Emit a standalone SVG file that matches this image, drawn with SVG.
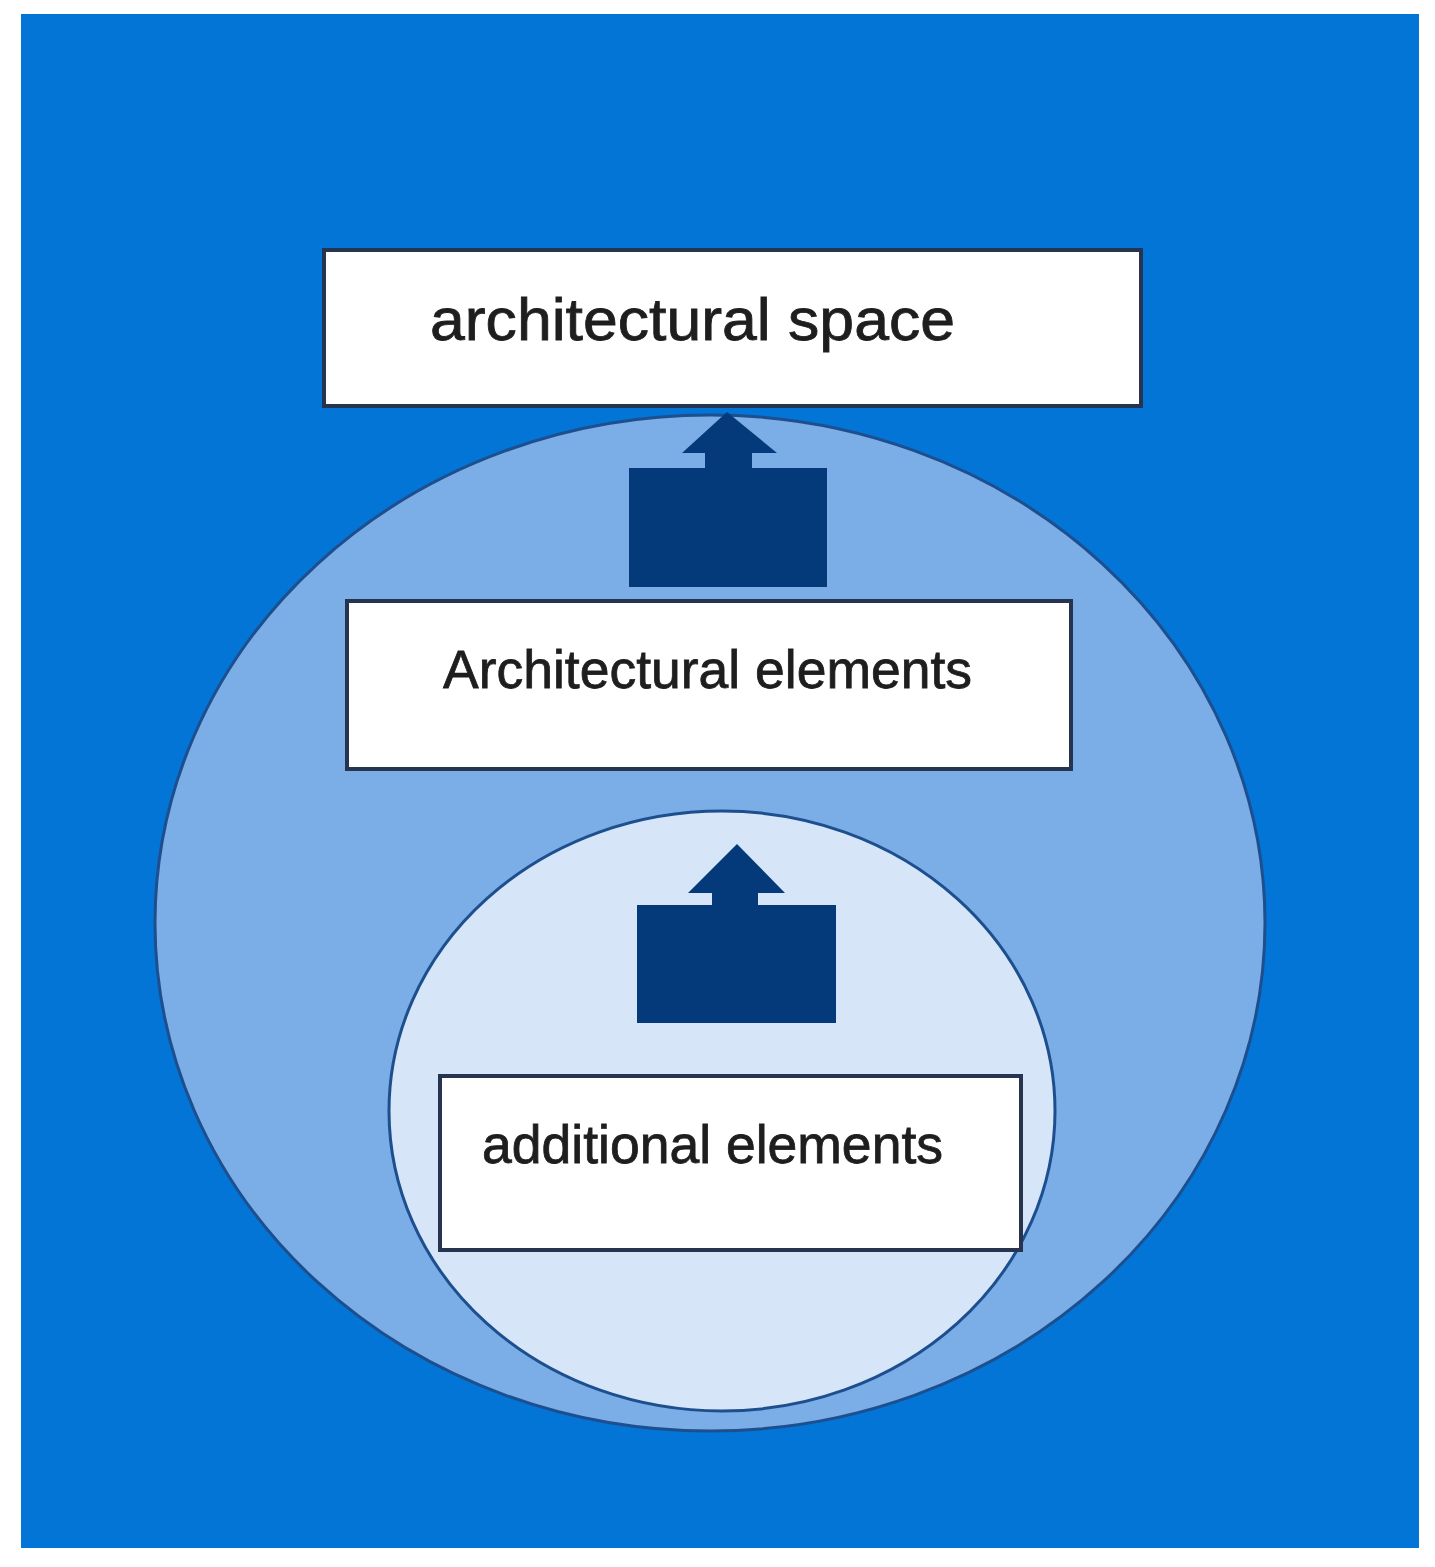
<svg xmlns="http://www.w3.org/2000/svg" width="1435" height="1567" viewBox="0 0 1435 1567">
<style>
.box{fill:#ffffff;stroke:#26344f;stroke-width:4}
.lbl{font-family:"Liberation Sans",Arial,sans-serif;fill:#1e1e1e;stroke:#1e1e1e;stroke-width:0.8}
.arrow{fill:#053a7a}
</style>
<rect x="0" y="0" width="1435" height="1567" fill="#ffffff"/>
<rect id="background" x="21" y="14" width="1398" height="1534" fill="#0275d6"/>
<g id="outer-ellipse">
<ellipse cx="710" cy="923" rx="555" ry="508" fill="#7badE6" stroke="#1d4f8f" stroke-width="3"/>
</g>
<g id="inner-ellipse">
<ellipse cx="722" cy="1111" rx="333" ry="300" fill="#d6e6f8" stroke="#1d4f8f" stroke-width="3"/>
</g>
<g id="connectors">
<path class="arrow" d="M629,468 L705,468 L705,453 L682,453 L727,412 L777,453 L752,453 L752,468 L827,468 L827,587 L629,587 Z"/>
<path class="arrow" d="M637,905 L712,905 L712,893 L688,893 L737,844 L785,893 L758,893 L758,905 L836,905 L836,1023 L637,1023 Z"/>
</g>
<g id="node-architectural-space">
<rect class="box" x="324" y="250" width="817" height="156"/>
<text class="lbl" x="430" y="340" font-size="59" textLength="525" lengthAdjust="spacingAndGlyphs">architectural space</text>
</g>
<g id="node-architectural-elements">
<rect class="box" x="347" y="601" width="724" height="168"/>
<text class="lbl" x="443" y="688" font-size="53" textLength="529" lengthAdjust="spacingAndGlyphs">Architectural elements</text>
</g>
<g id="node-additional-elements">
<rect class="box" x="440" y="1076" width="581" height="174"/>
<text class="lbl" x="482" y="1163" font-size="53" textLength="461" lengthAdjust="spacingAndGlyphs">additional elements</text>
</g>
</svg>
